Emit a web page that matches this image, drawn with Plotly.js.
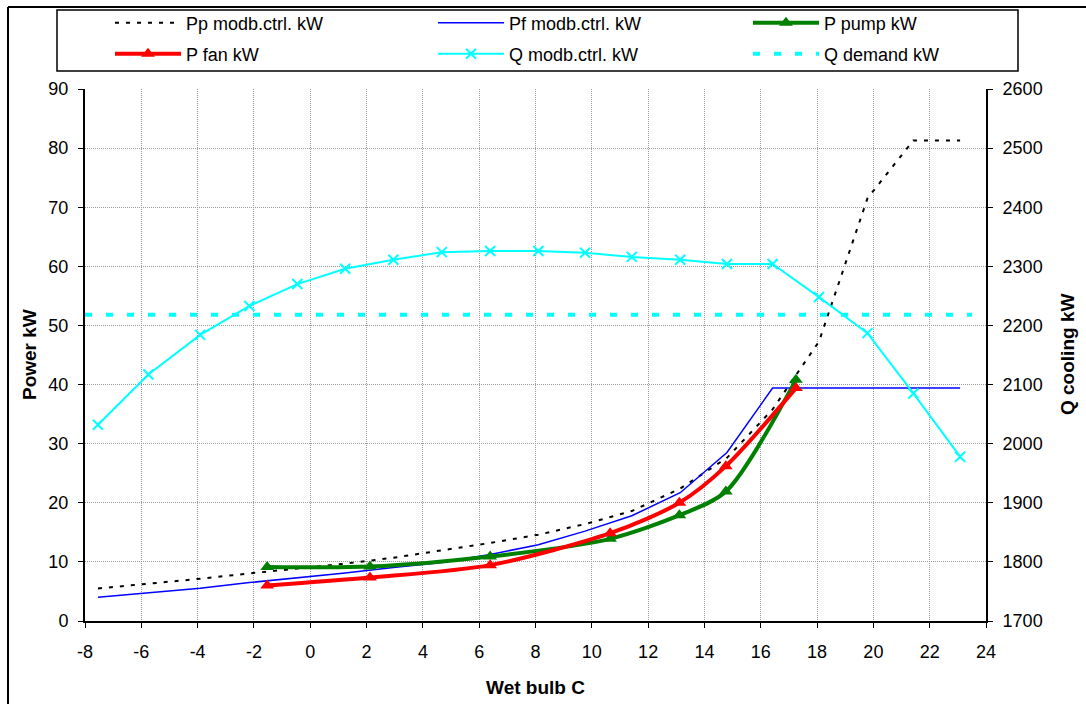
<!DOCTYPE html>
<html>
<head>
<meta charset="utf-8">
<script src="https://cdn.plot.ly/plotly-3.0.1.min.js"></script>
<style>
  html, body { margin: 0; padding: 0; background: #ffffff; }
  #chart { width: 1086px; height: 704px; }
</style>
</head>
<body>
<div id="chart"></div>
<script>
// Wet-bulb temperatures (C) of the model-controlled runs
const wetBulb = [-7.54, -5.75, -3.91, -2.16, -0.46, 1.24, 2.95, 4.67, 6.39, 8.10,
                 9.76, 11.42, 13.14, 14.80, 16.42, 18.07, 19.79, 21.42, 23.08];
// Pump power, model control (kW)
const ppCtrl = [5.5, 6.3, 7.15, 8.05, 8.85, 9.7, 10.7, 11.95, 13.2, 14.6,
                16.4, 18.6, 22.4, 27.6, 35.8, 47.3, 71.5, 81.3, 81.3];
// Fan power, model control (kW)
const pfCtrl = [4.0, 4.8, 5.55, 6.5, 7.3, 8.1, 9.05, 9.9, 11.25, 12.9,
                15.2, 17.8, 21.7, 28.5, 39.4, 39.4, 39.4, 39.4, 39.4];
// Cooling capacity, model control (kW)
const qCtrl = [2032, 2117, 2184, 2233, 2270, 2296, 2311, 2324, 2326, 2326,
               2323, 2316, 2311, 2304, 2304, 2248, 2187, 2085, 1978];

// Measured pump / fan power
const measWetBulb = [-1.53, 2.12, 6.39, 10.65, 13.11, 14.76, 17.25];
const pPump = [9.15, 9.2, 10.9, 13.9, 17.9, 21.9, 40.8];
const pFan = [6.0, 7.35, 9.45, 14.85, 20.0, 26.2, 39.4];

// Cooling demand
const demandWetBulb = [-8, 23.5];
const qDemand = [2218, 2218];

// Series names
const names = ['Pp modb.ctrl. kW', 'Pf modb.ctrl. kW', 'P pump kW',
               'P fan kW', 'Q modb.ctrl. kW', 'Q demand kW'];

// Wet-bulb axis ticks (plain hyphen minus)
const xTickVals = [-8, -6, -4, -2, 0, 2, 4, 6, 8, 10, 12, 14, 16, 18, 20, 22, 24];
const xTickText = ['-8', '-6', '-4', '-2', '0', '2', '4', '6', '8', '10', '12', '14', '16', '18', '20', '22', '24'];

// Page geometry (px)
const W = 1086, H = 704, ML = 85, MR = 100, MT = 89, MB = 83;
const PW = W - ML - MR, PH = H - MT - MB;
const fx = p => (p - ML) / PW;          // page px -> paper x
const fy = p => (H - MB - p) / PH;      // page px -> paper y

const FONT = 'Liberation Sans, Arial, sans-serif';

const traces = [
  { x: wetBulb, y: ppCtrl, name: names[0], mode: 'lines', legend: 'legend',
    line: { color: '#000000', width: 2, dash: '4px,7px' } },
  { x: wetBulb, y: pfCtrl, name: names[1], mode: 'lines', legend: 'legend2',
    line: { color: '#0000ff', width: 1.5 } },
  { x: measWetBulb, y: pPump, name: names[2], mode: 'lines+markers', legend: 'legend3',
    line: { color: '#008000', width: 4, shape: 'spline', smoothing: 0.8 },
    marker: { symbol: 'triangle-up', size: 12, color: '#008000' } },
  { x: measWetBulb, y: pFan, name: names[3], mode: 'lines+markers', legend: 'legend4',
    line: { color: '#ff0000', width: 4, shape: 'spline', smoothing: 0.8 },
    marker: { symbol: 'triangle-up', size: 12, color: '#ff0000' } },
  { x: wetBulb, y: qCtrl, name: names[4], mode: 'lines+markers', yaxis: 'y2', legend: 'legend5',
    line: { color: '#00ffff', width: 2 },
    marker: { symbol: 'x-thin', size: 10, color: '#00ffff', line: { color: '#00ffff', width: 2 } } },
  { x: demandWetBulb, y: qDemand, name: names[5], mode: 'lines', yaxis: 'y2', legend: 'legend6',
    line: { color: '#00ffff', width: 4, dash: '7px,14px' } }
];

// one legend per entry, laid out in a 3 x 2 grid
const colText = [186, 509, 824];
const rowMid = [23, 54];
const TEXT_OFFSET = 76;
function legendAt(col, row) {
  return {
    x: fx(colText[col] - TEXT_OFFSET), xanchor: 'left',
    y: fy(rowMid[row]), yanchor: 'middle',
    orientation: 'v', bgcolor: 'rgba(0,0,0,0)', borderwidth: 0,
    itemwidth: 66, itemclick: false, itemdoubleclick: false,
    font: { family: FONT, size: 18, color: '#000000' }
  };
}

const gridColor = '#9a9a9a';
const axisCommon = {
  showline: true, linecolor: '#000000', linewidth: 2,
  ticks: 'outside', ticklen: 5, tickwidth: 1, tickcolor: '#000000',
  tickfont: { family: FONT, size: 18, color: '#000000' },
  zeroline: false, fixedrange: true
};
const titleFont = { family: FONT, size: 19, color: '#000000' };

const layout = {
  width: W, height: H,
  margin: { l: ML, r: MR, t: MT, b: MB, pad: 0, autoexpand: false },
  paper_bgcolor: '#ffffff', plot_bgcolor: '#ffffff',
  font: { family: FONT, size: 18, color: '#000000' },
  showlegend: true,
  legend: legendAt(0, 0), legend2: legendAt(1, 0), legend3: legendAt(2, 0),
  legend4: legendAt(0, 1), legend5: legendAt(1, 1), legend6: legendAt(2, 1),
  xaxis: Object.assign({}, axisCommon, {
    range: [-8, 24], tickmode: 'array', tickvals: xTickVals, ticktext: xTickText,
    showgrid: true, gridcolor: gridColor, gridwidth: 1, griddash: '1px,1px',
    ticklabelstandoff: 8,
    title: { text: '<b>Wet bulb C</b>', font: titleFont, standoff: 20 }
  }),
  yaxis: Object.assign({}, axisCommon, {
    range: [0, 90], tick0: 0, dtick: 10,
    showgrid: true, gridcolor: gridColor, gridwidth: 1, griddash: '1px,1px',
    ticklabelstandoff: 6
  }),
  yaxis2: Object.assign({}, axisCommon, {
    overlaying: 'y', side: 'right', anchor: 'x',
    range: [1700, 2600], tick0: 1700, dtick: 100,
    showgrid: false, ticklabelstandoff: 6
  }),
  annotations: [
    // vertical axis titles
    { text: '<b>Power kW</b>', xref: 'paper', yref: 'paper', x: fx(29), y: fy(355),
      xanchor: 'center', yanchor: 'middle', textangle: -90, showarrow: false, font: titleFont },
    { text: '<b>Q cooling kW</b>', xref: 'paper', yref: 'paper', x: fx(1067), y: fy(355),
      xanchor: 'center', yanchor: 'middle', textangle: -90, showarrow: false, font: titleFont }
  ],
  shapes: [
    // chart frame (top and left edges)
    { type: 'line', xref: 'paper', yref: 'paper', x0: fx(8), x1: fx(W + 5), y0: fy(7), y1: fy(7),
      line: { color: '#000000', width: 2 } },
    { type: 'line', xref: 'paper', yref: 'paper', x0: fx(8), x1: fx(8), y0: fy(7), y1: fy(H + 5),
      line: { color: '#000000', width: 2 } },
    // legend box
    { type: 'rect', xref: 'paper', yref: 'paper', x0: fx(57), x1: fx(1018), y0: fy(10), y1: fy(71),
      line: { color: '#000000', width: 1.5 }, fillcolor: 'rgba(0,0,0,0)' }
  ]
};

Plotly.newPlot('chart', traces, layout, { displayModeBar: false, staticPlot: true });
</script>
</body>
</html>
